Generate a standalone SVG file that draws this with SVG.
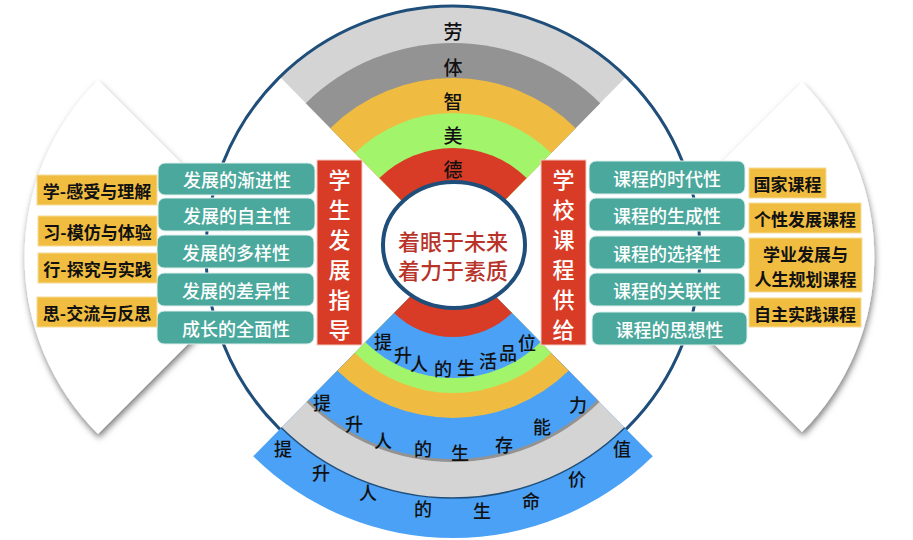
<svg xmlns="http://www.w3.org/2000/svg" width="913" height="540" viewBox="0 0 913 540">
<defs>
<filter id="sh" x="-20%" y="-20%" width="140%" height="140%">
<feDropShadow dx="1" dy="4" stdDeviation="3" flood-color="#000" flood-opacity="0.5"/>
</filter>
<style>
text{font-family:"Noto Sans CJK SC","Noto Sans",sans-serif;text-anchor:middle;dominant-baseline:central}
.lg{fill:#d4d4d4}.dg{fill:#939393}.yl{fill:#efbc41}.gr{fill:#a2f56a}.rd{fill:#d93c26}.bl{fill:#4aa1f6}
.lab{font-size:19px;fill:#111;font-weight:500}
.arc{font-size:18px;fill:#111;font-weight:500}
.teal rect{fill:#4ba89c;stroke:#dff0ed;stroke-width:1}
.teal text{font-size:18px;fill:#fff;font-weight:500}
.vbox rect{fill:#d93c26;stroke:#f3c9c2;stroke-width:1}
.vbox text{font-size:22px;fill:#fff;font-weight:500}
.ybox rect{fill:#f0bd41;stroke:#f6dc98;stroke-width:1}
.ybox text{font-size:17px;fill:#111;font-weight:bold}
.core{font-size:22px;fill:#b8342a;font-weight:500}
</style>
</defs>

<g id="lens-left"><path d="M275,257 L98,80 A250,250 0 0 0 98,434 Z" fill="#fff" filter="url(#sh)"/></g>
<g id="lens-right"><path d="M627,257 L802,82 A248,248 0 0 1 802,432 Z" fill="#fff" filter="url(#sh)"/></g>

<g id="main-circle"><circle cx="453" cy="253" r="247" fill="#fff"/></g>

<g id="top-sector">
<path class="lg" d="M453,253 L280.6,77.5 A246,246 0 0 1 625.4,77.5 Z"/>
<path class="dg" d="M453,253 L305.8,103.2 A210,210 0 0 1 600.2,103.2 Z"/>
<path class="yl" d="M453,253 L330.3,128.2 A175,175 0 0 1 575.7,128.2 Z"/>
<path class="gr" d="M453,253 L354.9,153.1 A140,140 0 0 1 551.1,153.1 Z"/>
<path class="rd" d="M453,253 L379.4,178.1 A105,105 0 0 1 526.6,178.1 Z"/>
<text class="lab" x="453" y="30">劳</text>
<text class="lab" x="453" y="66">体</text>
<text class="lab" x="453" y="100">智</text>
<text class="lab" x="453" y="134">美</text>
<text class="lab" x="453" y="168">德</text>
</g>

<g id="circle-outline"><circle cx="453" cy="253" r="247" fill="none" stroke="#1f4e7a" stroke-width="3"/></g>

<g id="bottom-sector">
<path class="bl" d="M453,253 L253.2,456.3 A285,285 0 0 0 652.8,456.3 Z"/>
<path class="lg" d="M453,253 L281.3,427.8 A245,245 0 0 0 624.7,427.8 Z"/>
<path d="M281.3,427.8 A245,245 0 0 0 624.7,427.8" fill="none" stroke="#1f4e7a" stroke-width="1.5"/>
<path class="dg" d="M453,253 L306.5,402.1 A209,209 0 0 0 599.5,402.1 Z"/>
<path class="bl" d="M453,253 L308.6,399.9 A206,206 0 0 0 597.4,399.9 Z"/>
<path class="yl" d="M453,253 L337.4,370.7 A165,165 0 0 0 568.6,370.7 Z"/>
<path class="gr" d="M453,253 L354.9,352.9 A140,140 0 0 0 551.1,352.9 Z"/>
<path class="bl" d="M453,253 L365.4,342.2 A125,125 0 0 0 540.6,342.2 Z"/>
<path class="rd" d="M453,253 L394.1,312.9 A84,84 0 0 0 511.9,312.9 Z"/>
</g>

<g id="core">
<ellipse cx="454" cy="245" rx="71" ry="63" fill="#fff" stroke="#1f4e7a" stroke-width="4"/>
<text class="core" x="453" y="240">着眼于未来</text>
<text class="core" x="453" y="269">着力于素质</text>
</g>

<g id="arc-text-1">
<text class="arc" x="383" y="341">提</text>
<text class="arc" x="403" y="354">升</text>
<text class="arc" x="419" y="363">人</text>
<text class="arc" x="443" y="368">的</text>
<text class="arc" x="466" y="367">生</text>
<text class="arc" x="488" y="360">活</text>
<text class="arc" x="508" y="352">品</text>
<text class="arc" x="527" y="342">位</text>
</g>
<g id="arc-text-2">
<text class="arc" x="322" y="402">提</text>
<text class="arc" x="354" y="423">升</text>
<text class="arc" x="383" y="440">人</text>
<text class="arc" x="423" y="448">的</text>
<text class="arc" x="460" y="452">生</text>
<text class="arc" x="504" y="444">存</text>
<text class="arc" x="542" y="426">能</text>
<text class="arc" x="578" y="404">力</text>
</g>
<g id="arc-text-3">
<text class="arc" x="283" y="448">提</text>
<text class="arc" x="321" y="472">升</text>
<text class="arc" x="368" y="492">人</text>
<text class="arc" x="423" y="508">的</text>
<text class="arc" x="482" y="510">生</text>
<text class="arc" x="531" y="500">命</text>
<text class="arc" x="577" y="478">价</text>
<text class="arc" x="622" y="448">值</text>
</g>

<g id="student-guide" class="vbox">
<rect x="317" y="160" width="45" height="185"/>
<text x="339.5" y="178">学</text>
<text x="339.5" y="208">生</text>
<text x="339.5" y="238">发</text>
<text x="339.5" y="268">展</text>
<text x="339.5" y="298">指</text>
<text x="339.5" y="328">导</text>
</g>
<g id="school-course" class="vbox">
<rect x="541" y="160" width="45" height="185"/>
<text x="563.5" y="178">学</text>
<text x="563.5" y="208">校</text>
<text x="563.5" y="238">课</text>
<text x="563.5" y="268">程</text>
<text x="563.5" y="298">供</text>
<text x="563.5" y="328">给</text>
</g>

<g id="left-teal-1" class="teal"><rect x="158" y="163" width="157" height="32" rx="7"/><text x="237" y="179">发展的渐进性</text></g>
<g id="left-teal-2" class="teal"><rect x="158" y="198" width="157" height="33" rx="7"/><text x="237" y="214.5">发展的自主性</text></g>
<g id="left-teal-3" class="teal"><rect x="157" y="235" width="157" height="33" rx="7"/><text x="236" y="251.5">发展的多样性</text></g>
<g id="left-teal-4" class="teal"><rect x="157" y="273" width="157" height="33" rx="7"/><text x="236" y="289.5">发展的差异性</text></g>
<g id="left-teal-5" class="teal"><rect x="157" y="311" width="157" height="33" rx="7"/><text x="236" y="327.5">成长的全面性</text></g>

<g id="right-teal-1" class="teal"><rect x="589" y="161" width="156" height="33" rx="7"/><text x="667" y="177.5">课程的时代性</text></g>
<g id="right-teal-2" class="teal"><rect x="589" y="198" width="156" height="33" rx="7"/><text x="667" y="214.5">课程的生成性</text></g>
<g id="right-teal-3" class="teal"><rect x="589" y="236" width="156" height="33" rx="7"/><text x="667" y="252.5">课程的选择性</text></g>
<g id="right-teal-4" class="teal"><rect x="589" y="273" width="156" height="33" rx="7"/><text x="667" y="289.5">课程的关联性</text></g>
<g id="right-teal-5" class="teal"><rect x="592" y="312" width="155" height="33" rx="7"/><text x="669.5" y="328.5">课程的思想性</text></g>

<g id="left-yellow-1" class="ybox"><rect x="37" y="175" width="120" height="30"/><text x="97" y="190">学-感受与理解</text></g>
<g id="left-yellow-2" class="ybox"><rect x="38" y="216" width="119" height="30"/><text x="97.5" y="231">习-模仿与体验</text></g>
<g id="left-yellow-3" class="ybox"><rect x="38" y="253" width="119" height="30"/><text x="97.5" y="268">行-探究与实践</text></g>
<g id="left-yellow-4" class="ybox"><rect x="37" y="297" width="120" height="30"/><text x="97" y="312">思-交流与反思</text></g>

<g id="right-yellow-1" class="ybox"><rect x="749" y="168" width="77" height="30"/><text x="787.5" y="183">国家课程</text></g>
<g id="right-yellow-2" class="ybox"><rect x="749" y="203" width="112" height="30"/><text x="805" y="218">个性发展课程</text></g>
<g id="right-yellow-3" class="ybox"><rect x="749" y="238" width="113" height="54"/><text x="805.5" y="253">学业发展与</text><text x="805.5" y="278">人生规划课程</text></g>
<g id="right-yellow-4" class="ybox"><rect x="749" y="298" width="112" height="29"/><text x="805" y="313">自主实践课程</text></g>
</svg>
